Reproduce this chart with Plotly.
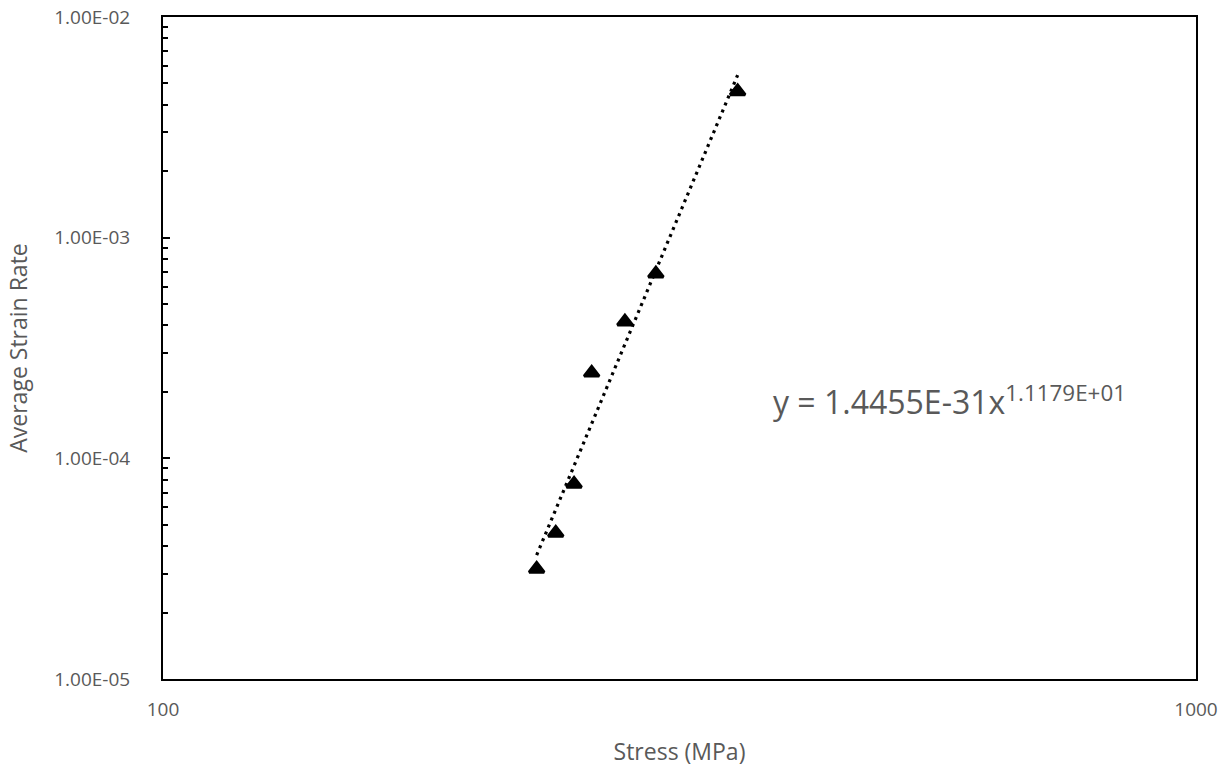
import numpy as np
import plotly.graph_objects as go

# Creep test results: applied stress vs. average strain rate
stress_mpa = [230, 240, 250, 260, 280, 300, 360]
strain_rate = [3.15e-5, 4.59e-5, 7.66e-5, 2.44e-4, 4.16e-4, 6.86e-4, 4.60e-3]

# Power-law trendline y = a * x^b
fit_a = 1.4455e-31
fit_b = 1.1179e1

y_tickvals = [1e-5, 1e-4, 1e-3, 1e-2]
y_ticktext = ["1.00E-05", "1.00E-04", "1.00E-03", "1.00E-02"]
x_tickvals = [100, 1000]
x_ticktext = ["100", "1000"]

FONT = "Open Sans"
GREY = "#595959"

trend_x = np.linspace(min(stress_mpa), max(stress_mpa), 200)
trend_y = fit_a * trend_x ** fit_b

minor_y = [k * 10.0 ** e for e in (-5, -4, -3) for k in range(2, 10)]

fig = go.Figure()
fig.add_trace(go.Scatter(
    x=trend_x, y=trend_y, mode="lines",
    line=dict(color="black", width=3.2, dash="3px,4.5px"),
    hoverinfo="skip", showlegend=False,
))
fig.add_trace(go.Scatter(
    x=stress_mpa, y=strain_rate, mode="markers",
    marker=dict(symbol="triangle-up", size=13, color="black",
                line=dict(color="black", width=3)),
    showlegend=False,
))

fig.add_annotation(
    xref="paper", yref="paper", x=0.589, y=0.422,
    xanchor="left", yanchor="middle", showarrow=False,
    text="y = 1.4455E-31x<sup>1.1179E+01</sup>",
    font=dict(family=FONT, size=32, color=GREY),
)

fig.update_layout(
    width=1231, height=768,
    margin=dict(l=163, r=35, t=17, b=89),
    paper_bgcolor="white", plot_bgcolor="white",
    font=dict(family=FONT, color=GREY),
    xaxis=dict(
        type="log", range=[2, 3], automargin=False,
        tickvals=x_tickvals, ticktext=x_ticktext,
        ticks="", showgrid=False, zeroline=False,
        showline=True, linecolor="black", linewidth=2, mirror=True,
        tickfont=dict(family=FONT, size=19, color=GREY),
        ticklabelstandoff=12,
        title=dict(text="Stress (MPa)", standoff=23,
                   font=dict(family=FONT, size=23, color=GREY)),
    ),
    yaxis=dict(
        type="log", range=[-5, -2], automargin=False,
        tickvals=y_tickvals, ticktext=y_ticktext,
        ticks="inside", ticklen=7, tickwidth=2, tickcolor="black",
        showgrid=False, zeroline=False,
        showline=True, linecolor="black", linewidth=2, mirror=True,
        minor=dict(tickvals=minor_y, ticks="inside", ticklen=5,
                   tickwidth=2, tickcolor="black", showgrid=False),
        tickfont=dict(family=FONT, size=19, color=GREY),
        ticklabelstandoff=27,
        title=dict(text="Average Strain Rate", standoff=20,
                   font=dict(family=FONT, size=23, color=GREY)),
    ),
)

fig.write_html("out.html")
